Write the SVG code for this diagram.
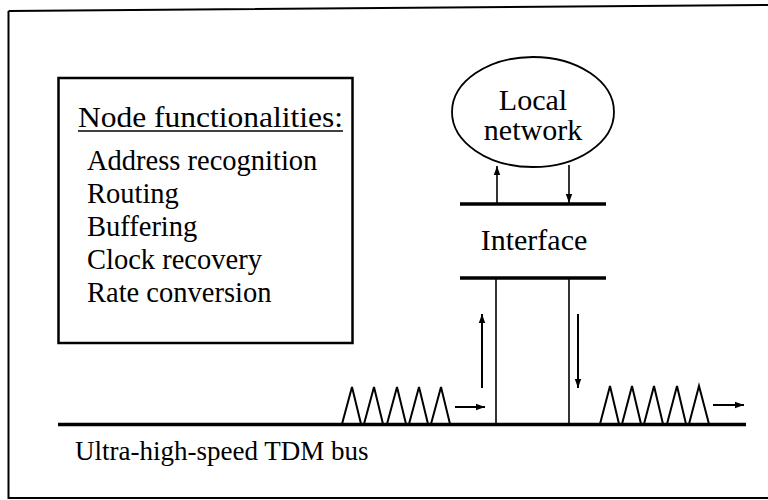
<svg xmlns="http://www.w3.org/2000/svg" width="768" height="500" viewBox="0 0 768 500">
<style>
text{font-family:'Liberation Serif','Times New Roman','DejaVu Serif',serif;fill:#000}
.t30{font-size:30px}
.t28{font-size:28.5px}
.t27{font-size:27px}
.thin{stroke:#000;stroke-width:1.6;fill:none}
.arr{stroke:#000;stroke-width:2;fill:none}
.bar{stroke:#000;stroke-width:3.5;fill:none}
.tri{stroke:#000;stroke-width:2;fill:none;stroke-linejoin:miter}
</style>
<defs>
<marker id="ah" markerUnits="userSpaceOnUse" markerWidth="10" markerHeight="8" refX="9" refY="4" orient="auto">
<path d="M0,0.8 L9,4 L0,7.2 Z" fill="#000"/>
</marker>
</defs>
<rect width="768" height="500" fill="#fff"/>
<path id="frame" d="M8.5,11 L770,5 M8.5,11 L8.5,498 L770,498" stroke="#000" stroke-width="2" fill="none"/>

<g id="functions">
<rect x="58.5" y="78" width="294" height="265" fill="none" stroke="#000" stroke-width="2.5"/>
<text class="t30" x="78" y="127" textLength="265" lengthAdjust="spacingAndGlyphs">Node functionalities:</text>
<line x1="78" y1="131" x2="343" y2="131" stroke="#000" stroke-width="1.5"/>
<text class="t28" x="87" y="170">Address recognition</text>
<text class="t28" x="87" y="203">Routing</text>
<text class="t28" x="87" y="236">Buffering</text>
<text class="t28" x="87" y="269">Clock recovery</text>
<text class="t28" x="87" y="302">Rate conversion</text>
</g>

<g id="local-network">
<ellipse cx="533" cy="112" rx="81" ry="55" fill="none" stroke="#000" stroke-width="1.8"/>
<text class="t30" x="533" y="110" text-anchor="middle">Local</text>
<text class="t30" x="533" y="140" text-anchor="middle">network</text>
</g>

<g id="interface">
<line class="bar" x1="460" y1="204" x2="606" y2="204"/>
<text class="t30" x="534" y="250" text-anchor="middle">Interface</text>
<line class="bar" x1="460" y1="278" x2="606" y2="278"/>
</g>

<g id="bus">
<line x1="58" y1="424.5" x2="746" y2="424.5" stroke="#000" stroke-width="3.5"/>
<text class="t27" x="75" y="460">Ultra-high-speed TDM bus</text>
<path class="tri" d="M342,424 L352,387 L361,424 M364,424 L374,387 L383,424 M387,424 L397,387 L406,424 M409,424 L419,387 L428,424 M431,424 L441,387 L450,424"/>
<path class="tri" d="M600,424 L610,386 L619,424 M622,424 L632,386 L641,424 M644,424 L654,386 L663,424 M667,424 L677,386 L686,424 M689,424 L699,386 L709,424"/>
</g>

<g id="connectors">
<line class="thin" x1="496" y1="278" x2="496" y2="424"/>
<line class="thin" x1="569" y1="278" x2="569" y2="424"/>
<line class="arr" x1="482" y1="388" x2="482" y2="314" marker-end="url(#ah)"/>
<line class="arr" x1="578" y1="314" x2="578" y2="388" marker-end="url(#ah)"/>
<line class="thin" x1="497" y1="203" x2="497" y2="166" marker-end="url(#ah)"/>
<line class="thin" x1="569" y1="165" x2="569" y2="203" marker-end="url(#ah)"/>
<line class="arr" x1="455" y1="407" x2="485" y2="407" marker-end="url(#ah)"/>
<line class="arr" x1="713" y1="405" x2="744" y2="405" marker-end="url(#ah)"/>
</g>
</svg>
